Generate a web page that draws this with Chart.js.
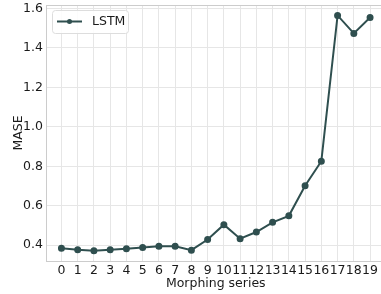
<!DOCTYPE html>
<html><head><meta charset="utf-8">
<script src="https://cdn.jsdelivr.net/npm/chart.js@4"></script>
<style>html,body{margin:0;padding:0;background:#fff;overflow:hidden;width:381px;height:294px}#c{display:block}</style>
</head><body>
<canvas id="c" width="390" height="294"></canvas>
<script>
const categories = [0,1,2,3,4,5,6,7,8,9,10,11,12,13,14,15,16,17,18,19];
const lstm = [0.385,0.377,0.372,0.377,0.382,0.388,0.395,0.395,0.375,0.429,0.504,0.433,0.467,0.516,0.549,0.702,0.826,1.565,1.474,1.555];
const yTicks = [0.4,0.6,0.8,1.0,1.2,1.4,1.6];
const seriesName = 'LSTM';
const lineColor = '#2f4f4f';
const FONT = 'DejaVu Sans';

const frame = {
  id:'frame',
  afterDraw(chart){
    const {ctx, chartArea:a} = chart;
    ctx.save();
    ctx.strokeStyle = '#cccccc'; ctx.lineWidth = 1;
    ctx.beginPath(); ctx.moveTo(a.left, a.top+0.5); ctx.lineTo(a.right, a.top+0.5); ctx.stroke();
    // legend
    const x=52.5,y=10.5,w=76,h=23,r=3;
    ctx.fillStyle='rgba(255,255,255,0.85)'; ctx.strokeStyle='#dddddd';
    ctx.beginPath();
    ctx.moveTo(x+r,y); ctx.lineTo(x+w-r,y); ctx.quadraticCurveTo(x+w,y,x+w,y+r);
    ctx.lineTo(x+w,y+h-r); ctx.quadraticCurveTo(x+w,y+h,x+w-r,y+h);
    ctx.lineTo(x+r,y+h); ctx.quadraticCurveTo(x,y+h,x,y+h-r);
    ctx.lineTo(x,y+r); ctx.quadraticCurveTo(x,y,x+r,y); ctx.closePath();
    ctx.fill(); ctx.stroke();
    ctx.strokeStyle=lineColor; ctx.lineWidth=2;
    ctx.beginPath(); ctx.moveTo(57,21.5); ctx.lineTo(82,21.5); ctx.stroke();
    ctx.fillStyle=lineColor; ctx.beginPath(); ctx.arc(69.5,21.5,2.5,0,Math.PI*2); ctx.fill();
    ctx.fillStyle='#1a1a1a'; ctx.font='12.5px "'+FONT+'"'; ctx.textBaseline='middle'; ctx.textAlign='left';
    ctx.fillText(seriesName, 92, 22);
    ctx.restore();
  }
};

new Chart(document.getElementById('c'), {
  type:'line',
  data:{ datasets:[{ label:seriesName, data:categories.map((c,i)=>({x:c,y:lstm[i]})),
    borderColor:lineColor, backgroundColor:lineColor, borderWidth:2, pointRadius:2.5, pointHoverRadius:2.5, tension:0 }]},
  options:{
    responsive:false, animation:false,
    layout:{padding:{top:5,right:0,left:0,bottom:0}},
    plugins:{legend:{display:false}, tooltip:{enabled:false}},
    scales:{
      x:{ type:'linear', min:-0.95, max:19.95,
        afterBuildTicks(s){ s.ticks = categories.map(v=>({value:v})); },
        afterFit(s){ s.height = 33; s.paddingLeft = 0; s.paddingRight = 0; },
        grid:{color:'#e6e6e6', tickLength:0, drawTicks:false},
        border:{color:'#cccccc'},
        ticks:{ color:'#1a1a1a', font:{family:FONT,size:12.5}, padding:2, maxRotation:0, autoSkip:false, callback:v=>String(v)},
        title:{display:true, text:'Morphing series', color:'#1a1a1a', font:{family:FONT,size:12.5}, padding:{top:0,bottom:3}}
      },
      y:{ min:0.32, max:1.618,
        afterBuildTicks(s){ s.ticks = yTicks.map(v=>({value:v})); },
        afterFit(s){ s.width = 46; s.paddingTop = 0; s.paddingBottom = 0; },
        grid:{color:'#e6e6e6', tickLength:0, drawTicks:false},
        border:{color:'#cccccc'},
        ticks:{ color:'#1a1a1a', font:{family:FONT,size:12.5}, padding:3, callback:v=>v.toFixed(1)},
        title:{display:true, text:'MASE', color:'#1a1a1a', font:{family:FONT,size:12.5}, padding:{top:11,bottom:0}}
      }
    }
  },
  plugins:[frame]
});
</script>
</body></html>
